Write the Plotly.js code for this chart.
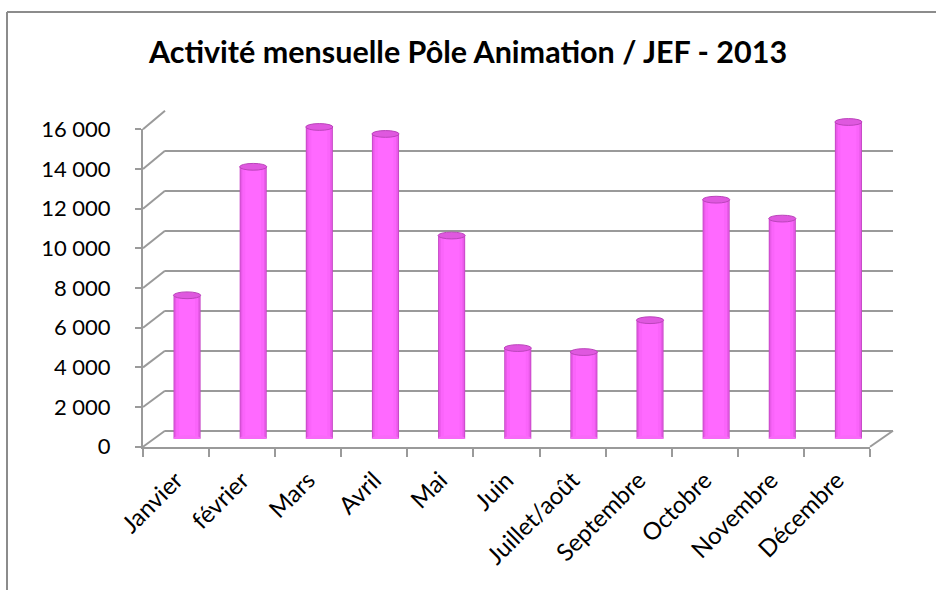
<!DOCTYPE html>
<html>
<head>
<meta charset="utf-8">
<script src="https://cdn.plot.ly/plotly-3.0.1.min.js"></script>
<style>html,body{margin:0;padding:0;background:#fff;}#chart{width:936px;height:590px;}</style>
</head>
<body>
<div id="chart"></div>
<script>
// ---- data ----
const categories = ['Janvier', 'février', 'Mars', 'Avril', 'Mai', 'Juin', 'Juillet/août', 'Septembre', 'Octobre', 'Novembre', 'Décembre'];
const values = [7200, 13650, 15650, 15300, 10200, 4550, 4350, 5950, 12000, 11050, 15900];
const yTickValues = [0, 2000, 4000, 6000, 8000, 10000, 12000, 14000, 16000];
const titleText = 'Activité mensuelle Pôle Animation / JEF - 2013';

// ---- geometry (pixels) ----
const W = 936, H = 590;
const yMax = 16000;
const yMaxBars = 17000; // extra head-room so the cylinder caps are not clipped
const front = {x0: 143, x1: 870, yTop: 129.3, yBot: 446.7};
const back = {x0: 165, x1: 893, yTop: 110.7, yBot: 430.7};
const midTop16 = 120, midBot = 438.7;
const mid = {x0: 154, x1: 881.5, yBot: midBot, yTop: midBot - (midBot - midTop16) * yMaxBars / yMax};
const gridColor = '#9a9a9a';
const fontFam = 'Lato, "Open Sans", "DejaVu Sans", sans-serif';

const xd = g => [g.x0 / W, g.x1 / W];
const yd = g => [1 - g.yBot / H, 1 - g.yTop / H];
const py = (g, v) => g.yBot - (g.yBot - g.yTop) * v / yMax;

// ---- traces ----
const traces = [];
traces.push({type: 'scatter', x: categories, y: categories.map(() => null), xaxis: 'x', yaxis: 'y', mode: 'markers', hoverinfo: 'skip', showlegend: false});
traces.push({type: 'scatter', x: [0], y: [null], xaxis: 'x2', yaxis: 'y2', mode: 'markers', hoverinfo: 'skip', showlegend: false});
const layers = [
  {w: 0.41, c: '#c84ac8'},
  {w: 0.38, c: '#e85ae8'},
  {w: 0.33, c: '#fa64fa'},
  {w: 0.24, c: '#ff69ff'}
];
layers.forEach(l => {
  traces.push({type: 'bar', x: categories, y: values, width: l.w, xaxis: 'x3', yaxis: 'y3',
    marker: {color: l.c, line: {width: 0}}, hoverinfo: 'x+y', showlegend: false});
});

// ---- shapes: frame, side diagonals, bar caps ----
const shapes = [];
const line = (x0, y0, x1, y1) => ({type: 'line', xref: 'paper', yref: 'paper',
  x0: x0 / W, y0: 1 - y0 / H, x1: x1 / W, y1: 1 - y1 / H, line: {color: gridColor, width: 2}, layer: 'below'});
yTickValues.forEach(v => shapes.push(line(front.x0, py(front, v), back.x0, py(back, v))));
shapes.push(line(front.x1, front.yBot, back.x1, back.yBot));
// frame
shapes.push({type: 'line', xref: 'paper', yref: 'paper', x0: 7 / W, y0: 1 - 12 / H, x1: 7 / W, y1: 0, line: {color: '#8c8c8c', width: 2}});
shapes.push({type: 'line', xref: 'paper', yref: 'paper', x0: 7 / W, y0: 1 - 12 / H, x1: 1, y1: 1 - 12 / H, line: {color: '#8c8c8c', width: 2}});
// cylinder caps
const capH = 170;
values.forEach((v, i) => {
  shapes.push({type: 'circle', xref: 'x3', yref: 'y3', x0: i - 0.205, x1: i + 0.205, y0: -capH, y1: capH,
    fillcolor: '#f86af8', line: {width: 0}, layer: 'above'});
  shapes.push({type: 'circle', xref: 'x3', yref: 'y3', x0: i - 0.205, x1: i + 0.205, y0: v - capH, y1: v + capH,
    fillcolor: '#df58df', line: {color: '#bb44bb', width: 1}, layer: 'above'});
});

const layout = {
  width: W, height: H,
  margin: {l: 0, r: 0, t: 0, b: 0},
  paper_bgcolor: '#ffffff', plot_bgcolor: 'rgba(0,0,0,0)',
  separators: ', ',
  barmode: 'overlay',
  showlegend: false,
  font: {family: fontFam, color: '#000'},
  title: {text: '<b>' + titleText + '</b>', x: 0.5, xanchor: 'center', y: 1 - 52 / H, yanchor: 'middle',
    font: {family: fontFam, size: 30.5, color: '#000'}},
  xaxis: {domain: xd(front), anchor: 'y', type: 'category', categoryorder: 'array', categoryarray: categories,
    range: [-0.5, categories.length - 0.5], showgrid: false, zeroline: false, showline: true, linecolor: gridColor, linewidth: 2,
    ticks: 'outside', tickson: 'boundaries', ticklen: 8, tickwidth: 2, tickcolor: gridColor, tickangle: -45,
    ticklabelstandoff: 8, tickfont: {size: 24, family: fontFam, color: '#000'}, fixedrange: true},
  yaxis: {domain: yd(front), anchor: 'x', range: [0, yMax], tickmode: 'array', tickvals: yTickValues, tickformat: ',d',
    showgrid: false, zeroline: false, showline: true, linecolor: gridColor, linewidth: 2,
    ticks: 'outside', ticklen: 6, tickwidth: 2, tickcolor: gridColor, ticklabelstandoff: 20,
    tickfont: {size: 22, family: fontFam, color: '#000'}, fixedrange: true},
  xaxis2: {domain: xd(back), anchor: 'y2', range: [-0.5, categories.length - 0.5], showgrid: false, zeroline: false,
    showline: false, showticklabels: false, ticks: '', fixedrange: true},
  yaxis2: {domain: yd(back), anchor: 'x2', range: [0, yMax], tickmode: 'array', tickvals: yTickValues,
    showgrid: true, gridcolor: gridColor, gridwidth: 2, zeroline: true, zerolinecolor: gridColor, zerolinewidth: 2,
    showline: false, showticklabels: false, ticks: '', fixedrange: true},
  xaxis3: {domain: xd(mid), anchor: 'y3', type: 'category', categoryorder: 'array', categoryarray: categories,
    range: [-0.5, categories.length - 0.5], visible: false, fixedrange: true},
  yaxis3: {domain: yd(mid), anchor: 'x3', range: [0, yMaxBars], visible: false, fixedrange: true},
  shapes: shapes
};

Plotly.newPlot('chart', traces, layout, {displayModeBar: false, staticPlot: true});
</script>
</body>
</html>
